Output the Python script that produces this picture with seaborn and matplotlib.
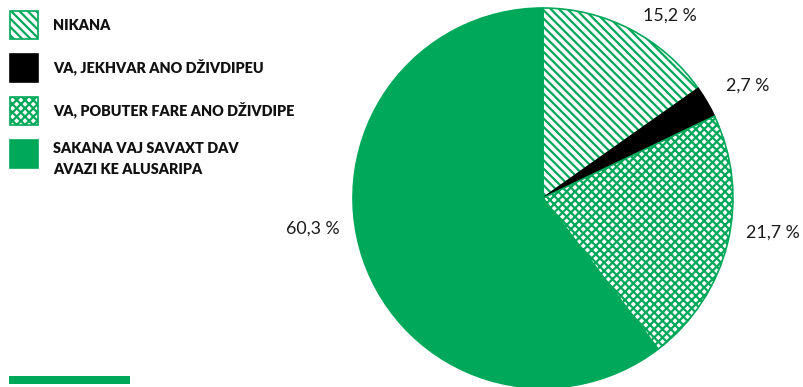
import seaborn as sns
import matplotlib.pyplot as plt
from matplotlib.patches import Rectangle

# podaci
labels = ['NIKANA', 'VA, JEKHVAR ANO DŽIVDIPEU', 'VA, POBUTER FARE ANO DŽIVDIPE',
          'SAKANA VAJ SAVAXT DAV\nAVAZI KE ALUSARIPA']
values = [15.2, 2.7, 21.7, 60.3]
value_labels = ['15,2 %', '2,7 %', '21,7 %', '60,3 %']

green = '#00a85a'
hatches = ['\\\\\\\\', None, 'xxxx', None]
faces = ['white', 'black', 'white', green]
edges = [green, 'black', green, green]

sns.set_theme(style='white')
plt.rcParams['hatch.linewidth'] = 1.6
plt.rcParams['font.family'] = ['Lato', 'DejaVu Sans']

fig = plt.figure(figsize=(8.04, 3.87), dpi=100)
W, H = 804, 387
cx, cy, r = 543, 198, 190
ax = fig.add_axes([(cx - r) / W, (H - cy - r) / H, 2 * r / W, 2 * r / H])

wedges, _ = ax.pie(values, startangle=90, counterclock=False,
                   colors=faces, wedgeprops=dict(linewidth=1.2))
for w, h, e in zip(wedges, hatches, edges):
    w.set_edgecolor(e)
    if h:
        w.set_hatch(h)
ax.set_aspect('equal')
ax.set_xlim(-1, 1)
ax.set_ylim(-1, 1)
ax.axis('off')

# procenti uz krug
lab_pos = [(670, 16), (748, 86), (773, 233), (313, 229)]
for (x, y), s in zip(lab_pos, value_labels):
    fig.text(x / W, 1 - y / H, s, ha='center', va='center', fontsize=12.8,
             fontweight='normal', color='#1a1a1a')

# legenda
row_y = [11, 54, 97, 140]
for y, lab, f, e, h in zip(row_y, labels, faces, edges, hatches):
    rect = Rectangle((10 / W, 1 - (y + 28) / H), 28 / W, 28 / H,
                     transform=fig.transFigure, facecolor=f, edgecolor=e,
                     hatch=h, linewidth=1.2)
    fig.add_artist(rect)
    if '\n' in lab:
        fig.text(53 / W, 1 - (y + 2) / H, lab, ha='left', va='top',
                 fontsize=10.4, fontweight='heavy', color='#111111', linespacing=1.75)
    else:
        fig.text(53 / W, 1 - (y + 14) / H, lab, ha='left', va='center',
                 fontsize=10.4, fontweight='heavy', color='#111111')

# zelena crta dolje
fig.add_artist(Rectangle((9 / W, 1 - 384 / H), 121 / W, 8 / H,
                         transform=fig.transFigure, facecolor=green, edgecolor='none'))

fig.savefig('out.png', dpi=100)
